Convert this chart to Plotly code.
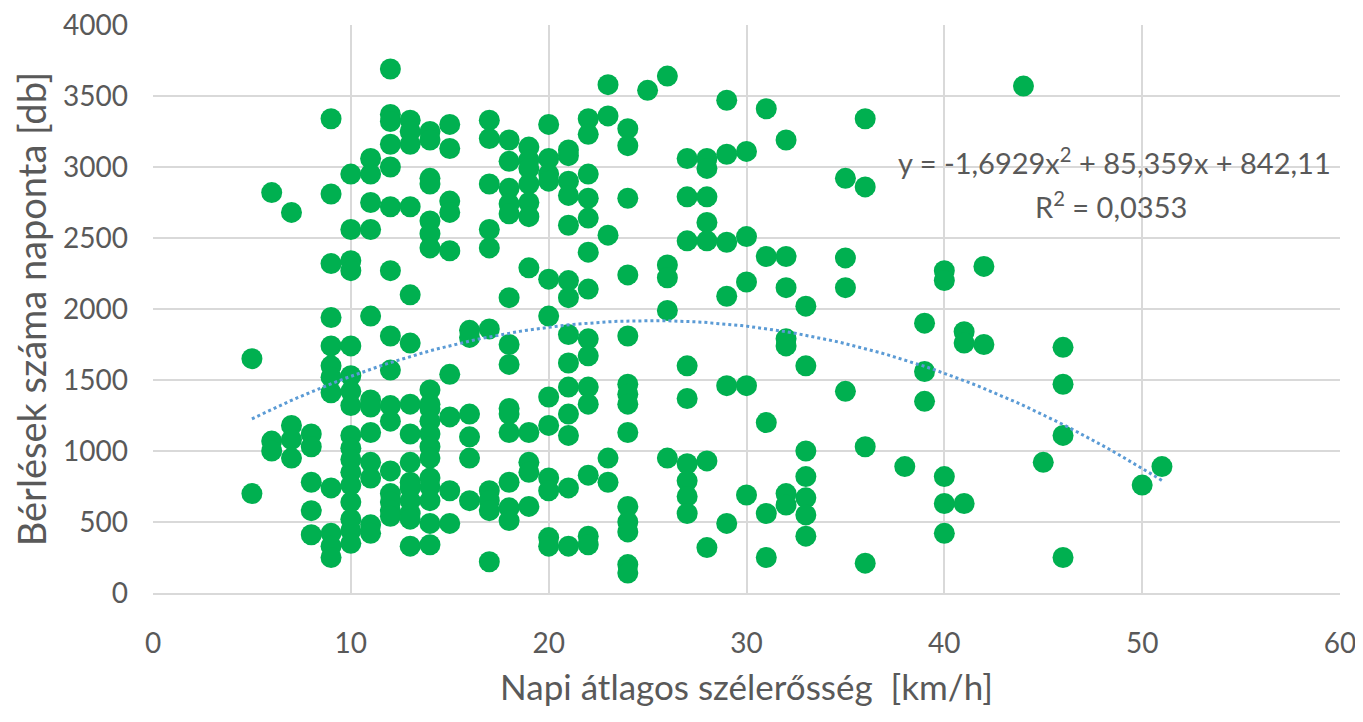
import numpy as np
import plotly.graph_objects as go

# Daily average wind speed [km/h] and daily rentals [db]
wind_kmh = (
    [5]*2 + [6]*3 + [7]*4 + [8]*5 + [9]*12 + [10]*17 + [11]*12 + [12]*16
    + [13]*15 + [14]*19 + [15]*9 + [16]*6 + [17]*10 + [18]*14 + [19]*11
    + [20]*12 + [21]*14 + [22]*14 + [23]*5 + [24]*14 + [25]*1 + [26]*5
    + [27]*9 + [28]*7 + [29]*6 + [30]*5 + [31]*5 + [32]*7 + [33]*7
    + [35]*4 + [36]*4 + [38]*1 + [39]*3 + [40]*5 + [41]*3 + [42]*2
    + [44]*1 + [45]*1 + [46]*4 + [50]*1 + [51]*1
)
rentals_db = [
    1650, 700,
    2820, 1070, 1000,
    2680, 1180, 1080, 950,
    1120, 1030, 780, 580, 410,
    3340, 2810, 2320, 1940, 1740, 1600, 1520, 1410, 740, 420, 330, 250,
    2950, 2560, 2340, 2270, 1740, 1530, 1420, 1320, 1110, 1020, 940, 850, 760, 640, 520, 440, 350,
    3060, 2950, 2750, 2560, 1950, 1360, 1310, 1130, 920, 810, 480, 420,
    3690, 3370, 3320, 3160, 3000, 2720, 2270, 1810, 1570, 1320, 1210, 860, 700, 640, 580, 540,
    3330, 3250, 3160, 2720, 2100, 1760, 1330, 1120, 920, 780, 740, 650, 560, 520, 330,
    3250, 3190, 2920, 2880, 2620, 2530, 2430, 1430, 1330, 1300, 1210, 1120, 1030, 950, 810, 750, 650, 490, 340,
    3300, 3130, 2760, 2680, 2410, 1540, 1240, 720, 490,
    1850, 1800, 1260, 1100, 950, 650,
    3330, 3200, 2880, 2560, 2430, 1860, 720, 650, 580, 220,
    3190, 3040, 2850, 2740, 2670, 2080, 1750, 1610, 1300, 1260, 1130, 780, 600, 510,
    3140, 3050, 2990, 2880, 2750, 2650, 2290, 1130, 920, 850, 610,
    3300, 3060, 2950, 2900, 2210, 1950, 1380, 1180, 810, 720, 390, 330,
    3120, 3080, 2900, 2800, 2590, 2200, 2080, 1820, 1620, 1450, 1260, 1110, 740, 330,
    3340, 3230, 2950, 2780, 2640, 2400, 2140, 1790, 1670, 1450, 1330, 830, 400, 340,
    3580, 3360, 2520, 950, 780,
    3270, 3150, 2780, 2240, 1810, 1470, 1400, 1330, 1130, 610, 500, 430, 200, 140,
    3540,
    3640, 2310, 2220, 1990, 950,
    3060, 2790, 2480, 1600, 1370, 910, 790, 680, 560,
    3060, 2990, 2790, 2610, 2480, 930, 320,
    3470, 3090, 2470, 2090, 1460, 490,
    3110, 2510, 2190, 1460, 690,
    3410, 2370, 1200, 560, 250,
    3190, 2370, 2150, 1790, 1740, 700, 620,
    2020, 1600, 1000, 820, 670, 550, 400,
    2920, 2360, 2150, 1420,
    3340, 2860, 1030, 210,
    890,
    1900, 1560, 1350,
    2270, 2200, 820, 630, 420,
    1840, 1760, 630,
    2300, 1750,
    3570,
    920,
    1730, 1470, 1110, 250,
    760,
    890,
]

# Polynomial trendline coefficients as displayed on the chart
trend_coef = [-1.6929, 85.359, 842.11]
trend_label = "y = -1,6929x<sup>2</sup> + 85,359x + 842,11"
r2_label = "R<sup>2</sup> = 0,0353"

x_title = "Napi átlagos szélerősség  [km/h]"
y_title = "Bérlések száma naponta [db]"

GREEN = "#00B050"
BLUE = "#5B9BD5"
GRID = "#D9D9D9"
TXT = "#595959"
FONT = "Lato, 'Open Sans', sans-serif"

fig = go.Figure()
fig.add_trace(go.Scatter(
    x=wind_kmh, y=rentals_db, mode="markers",
    marker=dict(size=21, color=GREEN, line=dict(width=0)),
    showlegend=False, hoverinfo="x+y",
))

tx = np.linspace(min(wind_kmh), max(wind_kmh), 120)
ty = np.polyval(trend_coef, tx)
fig.add_trace(go.Scatter(
    x=tx, y=ty, mode="lines",
    line=dict(color=BLUE, width=3, dash="dot"),
    showlegend=False, hoverinfo="skip",
))

fig.add_annotation(x=48.6, y=3045, text=trend_label, showarrow=False,
                   font=dict(family=FONT, size=29, color=TXT), xanchor="center", yanchor="middle")
fig.add_annotation(x=48.4, y=2730, text=r2_label, showarrow=False,
                   font=dict(family=FONT, size=29, color=TXT), xanchor="center", yanchor="middle")

# page body has an 8px margin: size and margins compensate for it
fig.update_layout(
    width=1353, height=706,
    margin=dict(l=145, r=21, t=17, b=121),
    paper_bgcolor="white", plot_bgcolor="white",
    font=dict(family=FONT, color=TXT),
)
fig.update_xaxes(
    range=[0, 60], dtick=10, tick0=0,
    showgrid=True, gridcolor=GRID, gridwidth=2,
    zeroline=False, showline=True, linecolor=GRID, linewidth=2,
    tickfont=dict(family=FONT, size=28, color=TXT),
    ticklabelstandoff=24, ticklabeloverflow="allow",
    title=dict(text=x_title, font=dict(family=FONT, size=35, color=TXT), standoff=18),
    automargin=False,
)
fig.update_yaxes(
    range=[0, 4000], dtick=500, tick0=0,
    showgrid=True, gridcolor=GRID, gridwidth=2,
    zeroline=False, showline=False,
    tickfont=dict(family=FONT, size=28, color=TXT),
    ticklabelstandoff=24, ticklabeloverflow="allow",
    title=dict(text=y_title, font=dict(family=FONT, size=38, color=TXT), standoff=12),
    automargin=False,
)

fig.write_html("out.html")
